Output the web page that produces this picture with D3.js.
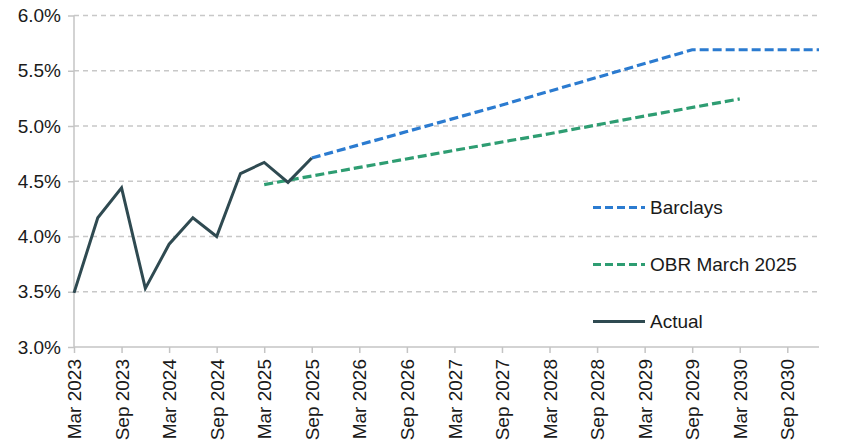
<!DOCTYPE html>
<html>
<head>
<meta charset="utf-8">
<script src="https://cdn.jsdelivr.net/npm/d3@7"></script>
<style>
  html, body { margin: 0; padding: 0; background: #fff; }
  svg { display: block; font-family: "Liberation Sans", Arial, sans-serif; }
</style>
</head>
<body>
<div id="chart"></div>
<script>
// Data (percent)
const actualDates = ["Mar 2023", "Jun 2023", "Sep 2023", "Dec 2023", "Mar 2024", "Jun 2024",
    "Sep 2024", "Dec 2024", "Mar 2025", "Jun 2025", "Sep 2025"];
const actualValues = [3.49, 4.17, 4.44, 3.53, 3.93, 4.17, 4.00, 4.57, 4.67, 4.49, 4.71];

const barclaysDates = ["Sep 2025", "Sep 2026", "Sep 2027", "Sep 2028", "Sep 2029", "Jan 2031"];
const barclaysValues = [4.71, 4.95, 5.19, 5.44, 5.69, 5.69];

const obrDates = ["Mar 2025", "Mar 2026", "Mar 2027", "Mar 2028", "Mar 2029", "Mar 2030"];
const obrValues = [4.47, 4.625, 4.78, 4.93, 5.09, 5.245];

const tickLabels = ["Mar 2023", "Sep 2023", "Mar 2024", "Sep 2024", "Mar 2025", "Sep 2025",
    "Mar 2026", "Sep 2026", "Mar 2027", "Sep 2027", "Mar 2028", "Sep 2028",
    "Mar 2029", "Sep 2029", "Mar 2030", "Sep 2030"];
const yTicks = [3.0, 3.5, 4.0, 4.5, 5.0, 5.5, 6.0];

const seriesNames = ["Barclays", "OBR March 2025", "Actual"];
const seriesColors = ["#2b7bd0", "#2e9d72", "#2f4a51"];

const monthIdx = { Jan: 0, Feb: 1, Mar: 2, Apr: 3, May: 4, Jun: 5, Jul: 6, Aug: 7, Sep: 8, Oct: 9, Nov: 10, Dec: 11 };
// months since Mar 2023
function toMonths(label) {
    const [m, y] = label.split(" ");
    return (+y - 2023) * 12 + monthIdx[m] - 2;
}

const width = 848, height = 447;
const svg = d3.select("#chart").append("svg")
    .attr("width", width)
    .attr("height", height);

const x = d3.scaleLinear().domain([0, 94]).range([74, 819]);
const y = d3.scaleLinear().domain([3, 6]).range([347, 15.5]);

// gridlines
svg.append("g")
    .selectAll("line")
    .data(yTicks.filter(d => d > 3))
    .enter().append("line")
    .attr("x1", x(0))
    .attr("x2", x(94))
    .attr("y1", d => y(d))
    .attr("y2", d => y(d))
    .attr("stroke", "#c8c8c8")
    .attr("stroke-width", 1.3)
    .attr("stroke-dasharray", "5 4");

// y axis
const yAxis = svg.append("g")
    .attr("transform", `translate(${x(0)},0)`)
    .call(d3.axisLeft(y).tickValues(yTicks).tickSize(6).tickPadding(7).tickFormat(d => d.toFixed(1) + "%"));
yAxis.selectAll("line, path").attr("stroke", "#c4c4c4").attr("stroke-width", 1.5);
yAxis.select(".domain").attr("d", `M0,${y(3)}V${y(6)}`);
yAxis.selectAll("text")
    .attr("fill", "#1a1a1a")
    .style("font-size", "19px")
    .style("font-family", "Liberation Sans, Arial, sans-serif");

// x axis
const xAxis = svg.append("g")
    .attr("transform", `translate(0,${y(3)})`)
    .call(d3.axisBottom(x)
        .tickValues(tickLabels.map(toMonths))
        .tickSize(6)
        .tickFormat((d, i) => tickLabels[i]));
xAxis.selectAll("line, path").attr("stroke", "#c4c4c4").attr("stroke-width", 1.5);
xAxis.select(".domain").attr("d", `M${x(0)},0H${x(94)}`);
xAxis.selectAll("text")
    .attr("fill", "#1a1a1a")
    .style("font-size", "19px")
    .style("font-family", "Liberation Sans, Arial, sans-serif")
    .attr("text-anchor", "end")
    .attr("transform", "rotate(-90)")
    .attr("x", -12)
    .attr("y", 0)
    .attr("dy", "0.35em");

const line = d3.line()
    .x(d => x(toMonths(d[0])))
    .y(d => y(d[1]));

// Barclays
svg.append("path")
    .datum(d3.zip(barclaysDates, barclaysValues))
    .attr("fill", "none")
    .attr("stroke", seriesColors[0])
    .attr("stroke-width", 3.2)
    .attr("stroke-dasharray", "9 4")
    .attr("d", line);

// OBR
svg.append("path")
    .datum(d3.zip(obrDates, obrValues))
    .attr("fill", "none")
    .attr("stroke", seriesColors[1])
    .attr("stroke-width", 3.2)
    .attr("stroke-dasharray", "9 4")
    .attr("d", line);

// Actual
svg.append("path")
    .datum(d3.zip(actualDates, actualValues))
    .attr("fill", "none")
    .attr("stroke", seriesColors[2])
    .attr("stroke-width", 3)
    .attr("stroke-linejoin", "miter")
    .attr("d", line);

// legend
const legend = svg.selectAll(".legend")
    .data(seriesNames)
    .enter().append("g")
    .attr("class", "legend")
    .attr("transform", (d, i) => `translate(593,${207.5 + i * 57})`);

legend.append("line")
    .attr("x1", 0)
    .attr("x2", 52)
    .attr("stroke", (d, i) => seriesColors[i])
    .attr("stroke-width", 3)
    .attr("stroke-dasharray", (d, i) => i < 2 ? "8 4" : null);

legend.append("text")
    .attr("x", 57)
    .attr("dy", "0.35em")
    .style("font-size", "19px")
    .attr("fill", "#1a1a1a")
    .text(d => d);
</script>
</body>
</html>
